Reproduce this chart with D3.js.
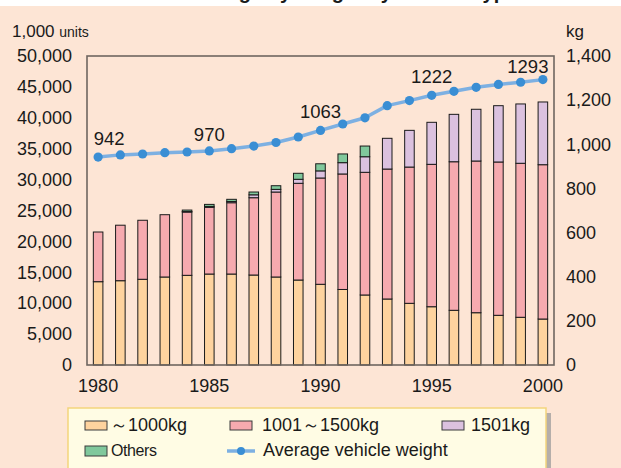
<!DOCTYPE html>
<html>
<head>
<meta charset="utf-8">
<script src="https://cdn.jsdelivr.net/npm/d3@7/dist/d3.min.js"></script>
<style>
  body { margin: 0; padding: 0; background: #ffffff; }
  svg { display: block; }
  text { font-family: "Liberation Sans", Arial, Helvetica, sans-serif; fill: #1a1a1a; }
</style>
</head>
<body>
<svg id="chart" width="621" height="468"></svg>
<script>
// ---------------- data ----------------
const years = [1980,1981,1982,1983,1984,1985,1986,1987,1988,1989,1990,
               1991,1992,1993,1994,1995,1996,1997,1998,1999,2000];
// thousand units
const upTo1000kg   = [13480,13640,13870,14240,14510,14720,14720,14560,14240,13750,13060,
                      12220,11330,10680,9980,9430,8850,8460,8040,7720,7440];
const from1001to1500 = [8040,8980,9550,10080,10240,10790,11540,12510,13750,15650,17200,
                        18690,19850,21030,22050,23040,24040,24550,24810,24920,24970];
const over1501kg   = [0,0,0,0,80,150,200,470,430,650,1150,
                      1830,2520,4970,5940,6800,7670,8370,9110,9600,10150];
const others       = [0,0,0,0,240,330,350,450,590,970,1150,
                      1410,1730,0,0,0,0,0,0,0,0];
// kg
const avgWeight    = [942,952,956,962,965,970,980,992,1008,1033,1063,
                      1092,1120,1175,1198,1222,1240,1258,1271,1281,1293];
const labeledYears = [1980,1985,1990,1995,2000];
const leftTicks  = [0,5000,10000,15000,20000,25000,30000,35000,40000,45000,50000];
const rightTicks = [0,200,400,600,800,1000,1200,1400];
const xTicks     = [1980,1985,1990,1995,2000];
const seriesNames = ["～1000kg","1001～1500kg","1501kg","Others"];
const lineName = "Average vehicle weight";

// ---------------- layout / style ----------------
const W = 621, H = 468;
const plot = {left: 87, right: 554, top: 56, bottom: 365};
const colors = ["#fed39e", "#f6aaaf", "#dbc1df", "#80c89c"];
const lineColor = "#7db0e2", dotColor = "#3a8ed4";
const labelOffsets = {1980: [11,-12], 1985: [0,-10], 1990: [0,-12], 1995: [0,-12], 2000: [-15,-7]};

const svg = d3.select("#chart");

// background
svg.append("rect").attr("x",0).attr("y",0).attr("width",W).attr("height",H).attr("fill","#ffffff");
svg.append("rect").attr("x",0).attr("y",6).attr("width",W).attr("height",H-6).attr("fill","#fde5d5");

// title (cut off at the top edge, as in the reference)
svg.append("text").attr("x",517).attr("y",-1.5).attr("text-anchor","end")
  .style("font-size","20px").style("font-weight","bold")
  .text("Holdings by Weight by Vehicle Type");
svg.append("rect").attr("x",0).attr("y",6).attr("width",W).attr("height",3).attr("fill","#fde5d5");

// scales
const x = d3.scaleBand().domain(years).range([plot.left, plot.right])
  .paddingInner(0.57).paddingOuter(0.285);
const yL = d3.scaleLinear().domain([0,50000]).range([plot.bottom, plot.top]);
const yR = d3.scaleLinear().domain([0,1400]).range([plot.bottom, plot.top]);

// stacked bars
const table = years.map((yr,i) => ({year: yr, s0: upTo1000kg[i], s1: from1001to1500[i], s2: over1501kg[i], s3: others[i]}));
const stack = d3.stack().keys(["s0","s1","s2","s3"]);
const layers = stack(table);

svg.append("g").selectAll("g").data(layers).join("g")
  .attr("fill", (d,i) => colors[i])
  .selectAll("rect").data(d => d.filter(p => p[1] - p[0] > 0)).join("rect")
  .attr("x", d => x(d.data.year))
  .attr("width", x.bandwidth())
  .attr("y", d => yL(d[1]))
  .attr("height", d => yL(d[0]) - yL(d[1]))
  .attr("stroke", "#1a1a1a").attr("stroke-width", 1);

// frame
svg.append("rect").attr("x",plot.left).attr("y",plot.top)
  .attr("width",plot.right-plot.left).attr("height",plot.bottom-plot.top)
  .attr("fill","none").attr("stroke","#6f6660").attr("stroke-width",1.6);

// axes
const axL = svg.append("g").attr("transform",`translate(${plot.left},0)`)
  .call(d3.axisLeft(yL).tickValues(leftTicks).tickSize(0).tickPadding(15).tickFormat(d3.format(",")));
const axR = svg.append("g").attr("transform",`translate(${plot.right},0)`)
  .call(d3.axisRight(yR).tickValues(rightTicks).tickSize(0).tickPadding(12).tickFormat(d3.format(",")));
const axB = svg.append("g").attr("transform",`translate(0,${plot.bottom})`)
  .call(d3.axisBottom(x).tickValues(xTicks).tickSize(0).tickPadding(14));
[axL, axR, axB].forEach(a => {
  a.select(".domain").remove();
  a.selectAll("text").style("font-size","18px").attr("fill","#1a1a1a")
    .style("font-family","'Liberation Sans', Arial, sans-serif");
});

// unit labels
const u = svg.append("text").attr("x",12).attr("y",37);
u.append("tspan").style("font-size","17px").text("1,000 ");
u.append("tspan").style("font-size","14px").text("units");
svg.append("text").attr("x",566).attr("y",37).style("font-size","17px").text("kg");

// line
const cx = yr => x(yr) + x.bandwidth()/2;
const line = d3.line().x((d,i) => cx(years[i])).y(d => yR(d));
svg.append("path").datum(avgWeight).attr("d", line)
  .attr("fill","none").attr("stroke",lineColor).attr("stroke-width",3.5).attr("stroke-linejoin","round");
svg.append("g").selectAll("circle").data(avgWeight).join("circle")
  .attr("cx", (d,i) => cx(years[i])).attr("cy", d => yR(d)).attr("r", 4.6).attr("fill", dotColor);

// line labels
svg.append("g").selectAll("text").data(labeledYears).join("text")
  .attr("x", yr => cx(yr) + labelOffsets[yr][0])
  .attr("y", yr => yR(avgWeight[years.indexOf(yr)]) + labelOffsets[yr][1])
  .attr("text-anchor","middle").style("font-size","18.5px")
  .text(yr => avgWeight[years.indexOf(yr)]);

// legend
svg.append("rect").attr("x",546).attr("y",413).attr("width",5).attr("height",H-413).attr("fill","#b5aeaa");
svg.append("rect").attr("x",68).attr("y",408).attr("width",478).attr("height",70)
  .attr("fill","#fffce4").attr("stroke","#f3d57c").attr("stroke-width",1.5);

const legendItems = [
  {name: seriesNames[0], color: colors[0], sx: 85,  sy: 421, tx: 110, ty: 431},
  {name: seriesNames[1], color: colors[1], sx: 230, sy: 421, tx: 262, ty: 431},
  {name: seriesNames[2], color: colors[2], sx: 442, sy: 421, tx: 471, ty: 431},
  {name: seriesNames[3], color: colors[3], sx: 85,  sy: 446, tx: 111, ty: 456, small: true}
];
const lg = svg.append("g");
legendItems.forEach(it => {
  lg.append("rect").attr("x",it.sx).attr("y",it.sy).attr("width",22).attr("height",it.small?10:9)
    .attr("fill",it.color).attr("stroke","#3a3a3a").attr("stroke-width",1);
  const t = lg.append("text").attr("x",it.tx).attr("y",it.ty).text(it.name);
  if (it.small) t.style("font-size","16px").style("letter-spacing","-0.4px");
  else t.style("font-size","18px");
});
lg.append("line").attr("x1",227).attr("x2",255).attr("y1",451).attr("y2",451)
  .attr("stroke",lineColor).attr("stroke-width",3.5);
lg.append("circle").attr("cx",241).attr("cy",451).attr("r",4).attr("fill",dotColor);
lg.append("text").attr("x",263).attr("y",456).style("font-size","18px").text(lineName);
</script>
</body>
</html>
